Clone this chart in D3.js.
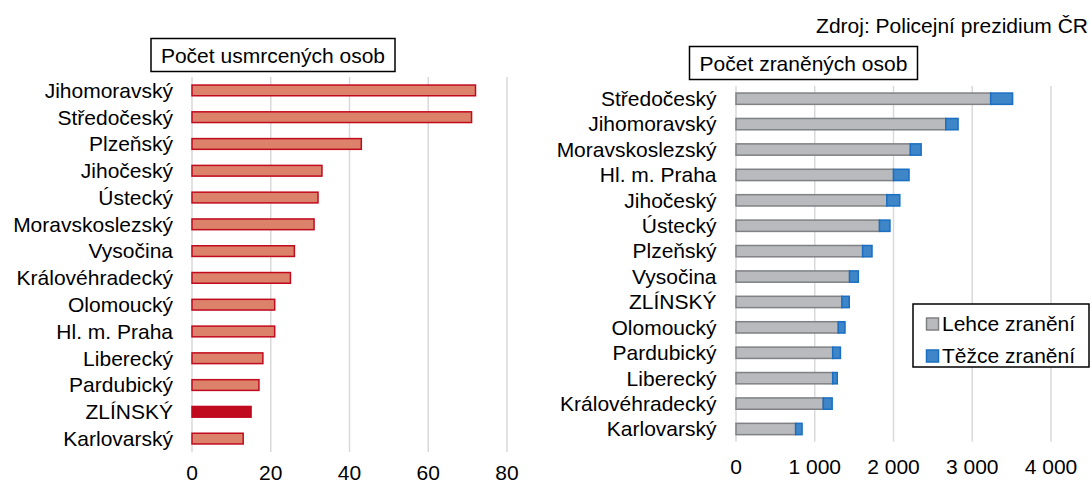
<!DOCTYPE html>
<html>
<head>
<meta charset="utf-8">
<script src="https://cdn.jsdelivr.net/npm/d3@7"></script>
<style>
  body { margin: 0; background: #fff; }
  svg text { font-family: "Liberation Sans", Arial, sans-serif; fill: #000; }
</style>
</head>
<body>
<div id="chart"></div>
<script>
var width = 1091, height = 485;

// usmrcení
var killedRegions = ["Jihomoravský", "Středočeský", "Plzeňský", "Jihočeský", "Ústecký", "Moravskoslezský",
  "Vysočina", "Královéhradecký", "Olomoucký", "Hl. m. Praha", "Liberecký", "Pardubický", "ZLÍNSKÝ", "Karlovarský"];
var killed = [72, 71, 43, 33, 32, 31, 26, 25, 21, 21, 18, 17, 15, 13];
var killedTicks = [0, 20, 40, 60, 80];

// zranění
var injuredRegions = ["Středočeský", "Jihomoravský", "Moravskoslezský", "Hl. m. Praha", "Jihočeský", "Ústecký",
  "Plzeňský", "Vysočina", "ZLÍNSKÝ", "Olomoucký", "Pardubický", "Liberecký", "Královéhradecký", "Karlovarský"];
var lightInjured = [3234, 2664, 2214, 2000, 1915, 1822, 1608, 1442, 1345, 1299, 1228, 1228, 1108, 757];
var severeInjured = [278, 156, 137, 197, 165, 133, 119, 112, 93, 85, 98, 58, 113, 82];
var injuredTicks = [0, 1000, 2000, 3000, 4000];
var seriesNames = ["Lehce zranění", "Těžce zranění"];

var fmt = function(d) { return d3.format(",")(d).replace(/,/g, "\u00a0"); };

var svg = d3.select("#chart").append("svg")
  .attr("width", width)
  .attr("height", height);

// ---------- levý graf ----------
var xL = d3.scaleLinear().domain([0, 80]).range([192, 507]);
var yL = d3.scaleBand().domain(killedRegions).range([77, 452]).paddingInner(0.6).paddingOuter(0.3);

var gL = svg.append("g");

gL.selectAll("line.grid")
  .data(killedTicks)
  .enter().append("line")
  .attr("x1", d => xL(d)).attr("x2", d => xL(d))
  .attr("y1", 77).attr("y2", 452)
  .attr("stroke", "#d9d9d9").attr("stroke-width", 1.5);

gL.selectAll("rect.bar")
  .data(killed)
  .enter().append("rect")
  .attr("x", xL(0))
  .attr("y", (d, i) => yL(killedRegions[i]))
  .attr("width", d => xL(d) - xL(0))
  .attr("height", yL.bandwidth())
  .attr("fill", (d, i) => killedRegions[i] == "ZLÍNSKÝ" ? "#c00a1e" : "#dc826a")
  .attr("stroke", "#c00a1e")
  .attr("stroke-width", 1.5);

gL.selectAll("text.cat")
  .data(killedRegions)
  .enter().append("text")
  .attr("x", 173)
  .attr("y", d => yL(d) + yL.bandwidth() / 2)
  .attr("dy", "0.35em")
  .attr("text-anchor", "end")
  .attr("font-size", 21)
  .text(d => d);

gL.selectAll("text.tick")
  .data(killedTicks)
  .enter().append("text")
  .attr("x", d => xL(d))
  .attr("y", 480)
  .attr("text-anchor", "middle")
  .attr("font-size", 21)
  .text(d => d);

gL.append("rect")
  .attr("x", 151).attr("y", 38.5).attr("width", 244).attr("height", 33)
  .attr("fill", "#fff").attr("stroke", "#000").attr("stroke-width", 1.5);
gL.append("text")
  .attr("x", 273).attr("y", 62.5)
  .attr("text-anchor", "middle").attr("font-size", 21)
  .text("Počet usmrcených osob");

// ---------- pravý graf ----------
var xR = d3.scaleLinear().domain([0, 4000]).range([736, 1051]);
var yR = d3.scaleBand().domain(injuredRegions).range([86, 441.7]).paddingInner(0.555).paddingOuter(0.2775);

var gR = svg.append("g");

gR.selectAll("line.grid")
  .data(injuredTicks)
  .enter().append("line")
  .attr("x1", d => xR(d)).attr("x2", d => xR(d))
  .attr("y1", 86).attr("y2", 441.7)
  .attr("stroke", "#d9d9d9").attr("stroke-width", 1.5);

var stacked = injuredRegions.map(function(r, i) {
  return { region: r, light: lightInjured[i], severe: severeInjured[i] };
});

gR.selectAll("rect.light")
  .data(stacked)
  .enter().append("rect")
  .attr("x", xR(0))
  .attr("y", d => yR(d.region))
  .attr("width", d => xR(d.light) - xR(0))
  .attr("height", yR.bandwidth())
  .attr("fill", "#b8babd")
  .attr("stroke", "#7f8184")
  .attr("stroke-width", 1.5);

gR.selectAll("rect.severe")
  .data(stacked)
  .enter().append("rect")
  .attr("x", d => xR(d.light))
  .attr("y", d => yR(d.region))
  .attr("width", d => xR(d.light + d.severe) - xR(d.light))
  .attr("height", yR.bandwidth())
  .attr("fill", "#3e86c7")
  .attr("stroke", "#1a6fc2")
  .attr("stroke-width", 1.5);

gR.selectAll("text.cat")
  .data(injuredRegions)
  .enter().append("text")
  .attr("x", 716.5)
  .attr("y", d => yR(d) + yR.bandwidth() / 2)
  .attr("dy", "0.35em")
  .attr("text-anchor", "end")
  .attr("font-size", 21)
  .text(d => d);

gR.selectAll("text.tick")
  .data(injuredTicks)
  .enter().append("text")
  .attr("x", d => xR(d))
  .attr("y", 474)
  .attr("text-anchor", "middle")
  .attr("font-size", 21)
  .text(d => fmt(d));

gR.append("rect")
  .attr("x", 689.5).attr("y", 46.5).attr("width", 228).attr("height", 33)
  .attr("fill", "#fff").attr("stroke", "#000").attr("stroke-width", 1.5);
gR.append("text")
  .attr("x", 803.5).attr("y", 70.5)
  .attr("text-anchor", "middle").attr("font-size", 21)
  .text("Počet zraněných osob");

// legenda
var leg = gR.append("g");
leg.append("rect")
  .attr("x", 913).attr("y", 304).attr("width", 176).attr("height", 63)
  .attr("fill", "#fff").attr("stroke", "#000").attr("stroke-width", 1.5);
var legFill = ["#b8babd", "#3e86c7"], legStroke = ["#7f8184", "#1a6fc2"];
seriesNames.forEach(function(name, i) {
  var cy = 324 + i * 32;
  leg.append("rect")
    .attr("x", 926.5).attr("y", cy - 6).attr("width", 12).attr("height", 12)
    .attr("fill", legFill[i]).attr("stroke", legStroke[i]).attr("stroke-width", 1.5);
  leg.append("text")
    .attr("x", 942).attr("y", cy).attr("dy", "0.35em")
    .attr("font-size", 21)
    .text(name);
});

// zdroj
svg.append("text")
  .attr("x", 1088).attr("y", 33)
  .attr("text-anchor", "end")
  .attr("font-size", 21)
  .text("Zdroj: Policejní prezidium ČR");
</script>
</body>
</html>
